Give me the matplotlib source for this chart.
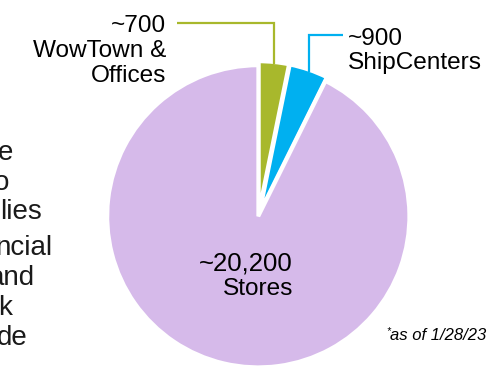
import numpy as np
import matplotlib
matplotlib.use("Agg")
import matplotlib.pyplot as plt

# ---- data ----
categories = ["WowTown & Offices", "ShipCenters", "Stores"]
counts = [700, 900, 20200]
value_labels = ["~700", "~900", "~20,200"]
name_lines = [["WowTown &", "Offices"], ["ShipCenters"], ["Stores"]]
colors = ["#A8B82C", "#00B0F0", "#D6BAEA"]
left_fragments = ["e", "o", "lies", "ncial", "and", "k", "de"]
footnote = "as of 1/28/23"

plt.rcParams['font.family'] = ['Liberation Sans', 'DejaVu Sans']

W, H = 487, 366
fig = plt.figure(figsize=(W / 100, H / 100), dpi=100)
ax = fig.add_axes([0, 0, 1, 1])

def Y(py):
    return H - py

cx, cy, R = 258.3, Y(216.3), 151.0
explode = [4.0, 4.0, 0.0]
wedges, _ = ax.pie(counts, colors=colors, startangle=90, counterclock=False,
                   center=(cx, cy), radius=R, explode=explode,
                   wedgeprops=dict(edgecolor="white", linewidth=2.8))
ax.set_xlim(0, W)
ax.set_ylim(0, H)
ax.set_aspect('auto')
ax.axis('off')

fs = 17.6
# leader lines from wedge mid-angles
def rim_point(i):
    w = wedges[i]
    th = np.deg2rad(0.5 * (w.theta1 + w.theta2))
    return (cx + (R + explode[i]) * np.cos(th), cy + (R + explode[i]) * np.sin(th))

gx, gy = rim_point(0)
ax.plot([gx, gx, 177], [gy - 2, Y(22.5), Y(22.5)], color=colors[0], lw=1.6,
        solid_joinstyle='miter', solid_capstyle='butt')
bx, by = rim_point(1)
ax.plot([bx, bx, 343], [by - 2, Y(35), Y(35)], color=colors[1], lw=1.6,
        solid_joinstyle='miter', solid_capstyle='butt')

# label texts
ax.text(166, Y(32), value_labels[0], fontsize=fs, ha='right', va='baseline')
ax.text(166, Y(57), name_lines[0][0], fontsize=fs, ha='right', va='baseline')
ax.text(166, Y(82), name_lines[0][1], fontsize=fs, ha='right', va='baseline')

ax.text(348, Y(45), value_labels[1], fontsize=fs, ha='left', va='baseline')
ax.text(348, Y(69), name_lines[1][0], fontsize=fs, ha='left', va='baseline')

ax.text(293, Y(270), value_labels[2], fontsize=18.5, ha='right', va='baseline')
ax.text(293, Y(295), name_lines[2][0], fontsize=fs, ha='right', va='baseline')

# cut-off body text on the left
frag_right = [13, 9, 42, 52, 35, 12, 28]
frag_base = [160, 190, 219, 255, 285, 315, 345]
for t, xr, yb in zip(left_fragments, frag_right, frag_base):
    ax.text(xr, Y(yb), t, fontsize=20, ha='right', va='baseline', color="#1a1a1a")

# footnote
ax.text(386, Y(334), "*", fontsize=7.5, ha='left', va='baseline', style='italic')
ax.text(390, Y(340), footnote, fontsize=12, ha='left', va='baseline', style='italic')

fig.savefig("out.png", dpi=100)
